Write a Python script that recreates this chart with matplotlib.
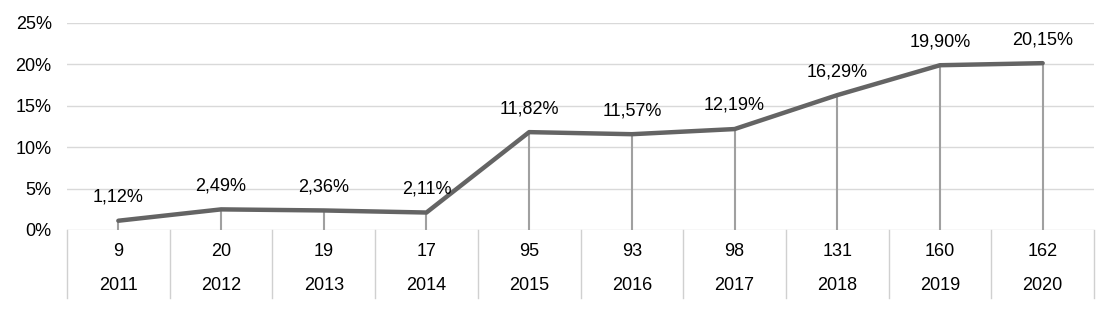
import matplotlib.pyplot as plt
import matplotlib.transforms as mtransforms

plt.rcParams['font.family'] = ['Liberation Sans', 'DejaVu Sans']

years = ['2011', '2012', '2013', '2014', '2015', '2016', '2017', '2018', '2019', '2020']
counts = ['9', '20', '19', '17', '95', '93', '98', '131', '160', '162']
share = [1.12, 2.49, 2.36, 2.11, 11.82, 11.57, 12.19, 16.29, 19.90, 20.15]
yticks = [0, 5, 10, 15, 20, 25]

FS = 13

fig = plt.figure(figsize=(11.16, 3.09), dpi=100)
ax = fig.add_axes([67 / 1116, (309 - 230) / 309, (1094 - 67) / 1116, 207 / 309])

x = list(range(len(years)))
ax.set_xlim(-0.5, len(years) - 0.5)
ax.set_ylim(0, 25)

for t in yticks:
    ax.axhline(t, color='#d9d9d9', lw=1, zorder=0)

# drop lines
ax.vlines(x, 0, share, color='#a0a0a0', lw=1.5, zorder=1)
ax.plot(x, share, color='#646464', lw=3.2, solid_capstyle='round', zorder=2)

for xi, v in zip(x, share):
    ax.annotate(f'{v:.2f}%'.replace('.', ','), (xi, v), xytext=(0, 17),
                textcoords='offset points', ha='center', va='center', fontsize=FS)

# category table below the axis
trans = mtransforms.blended_transform_factory(ax.transData, ax.transAxes)
for b in [i - 0.5 for i in range(len(years) + 1)]:
    ax.plot([b, b], [0, -68 / 207], color='#d0d0d0', lw=1, transform=trans, clip_on=False)
for xi, c, y in zip(x, counts, years):
    ax.text(xi, -22 / 207, c, transform=trans, ha='center', va='center', fontsize=FS)
    ax.text(xi, -55 / 207, y, transform=trans, ha='center', va='center', fontsize=FS)

ax.set_xticks([])
ax.set_yticks(yticks)
ax.set_yticklabels([f'{t}%' for t in yticks], fontsize=FS)
ax.tick_params(axis='y', length=0, pad=11)
for s in ax.spines.values():
    s.set_visible(False)

fig.savefig('out.png', dpi=100)
